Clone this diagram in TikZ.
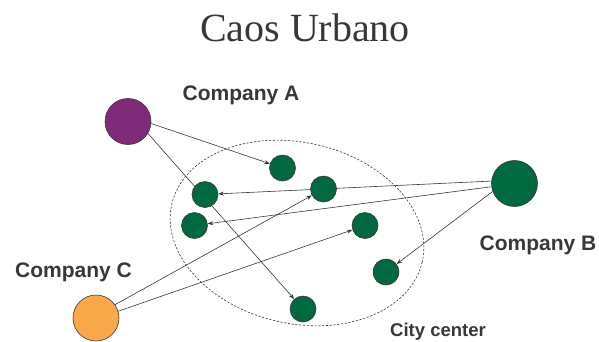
\documentclass[tikz,border=0pt]{standalone}
\usepackage{fontspec}
\setmainfont{Liberation Serif}
\setsansfont{Liberation Sans}
\usetikzlibrary{arrows.meta}
\pgfdeclarelayer{bg}
\pgfsetlayers{bg,main}
\definecolor{purplea}{RGB}{128,42,122}
\definecolor{greenb}{RGB}{0,105,64}
\definecolor{orangec}{RGB}{249,168,74}
\definecolor{ink}{RGB}{55,55,60}
\begin{document}
\begin{tikzpicture}[x=1pt,y=-1pt,
    firm/.style={circle,draw=ink,line width=0.6pt,inner sep=0pt,minimum size=46pt},
    site/.style={circle,draw=ink,line width=0.6pt,fill=greenb,inner sep=0pt,minimum size=26pt},
    tag/.style={font=\sffamily\bfseries\fontsize{21}{25}\selectfont,text=ink,anchor=base,inner sep=0pt},
    link/.style={draw=ink,line width=0.6pt,-{Stealth[length=5.5pt,width=4pt]}}]
    \useasboundingbox (0,0) rectangle (599,341);
    \node[anchor=base,inner sep=0pt,font=\fontsize{40}{48}\selectfont,text=ink] (title) at (305,41) {Caos Urbano};

    \node[firm,fill=purplea] (compa) at (128,121.5) {};
    \node[firm,fill=greenb] (compb) at (514.5,183.5) {};
    \node[firm,fill=orangec] (compc) at (96,318) {};
    \node[tag] (lbla) at (241,100) {Company A};
    \node[tag] (lblb) at (538,250) {Company B};
    \node[tag] (lblc) at (73.5,277) {Company C};
    \node[tag,font=\sffamily\bfseries\fontsize{18.5}{22}\selectfont] (city) at (438,336) {City center};

    \node[site] (site1) at (282.5,168) {};
    \node[site] (site2) at (205,194.5) {};
    \node[site] (site3) at (323.5,189) {};
    \node[site] (site4) at (194.5,225.5) {};
    \node[site] (site5) at (365,225.5) {};
    \node[site] (site6) at (386,272) {};
    \node[site] (site7) at (303,309) {};

    \begin{pgfonlayer}{bg}
    \draw[ink,line width=0.6pt,dash pattern=on 2.2pt off 1.6pt,rotate around={-13:(297,233)}] (297,233) ellipse [x radius=128.5,y radius=90.5];
    \draw[link] (compa.-5) -- (site1);
    \draw[link] (compa.-31) -- (site7);
    \draw[link] (compb.174) -- (site2);
    \draw[link] (compb.-172) -- (site4);
    \draw[link] (compb.-160) -- (site6);
    \draw[link] (compc.35) -- (site3);
    \draw[link] (compc.17) -- (site5);
    \end{pgfonlayer}
\end{tikzpicture}
\end{document}
